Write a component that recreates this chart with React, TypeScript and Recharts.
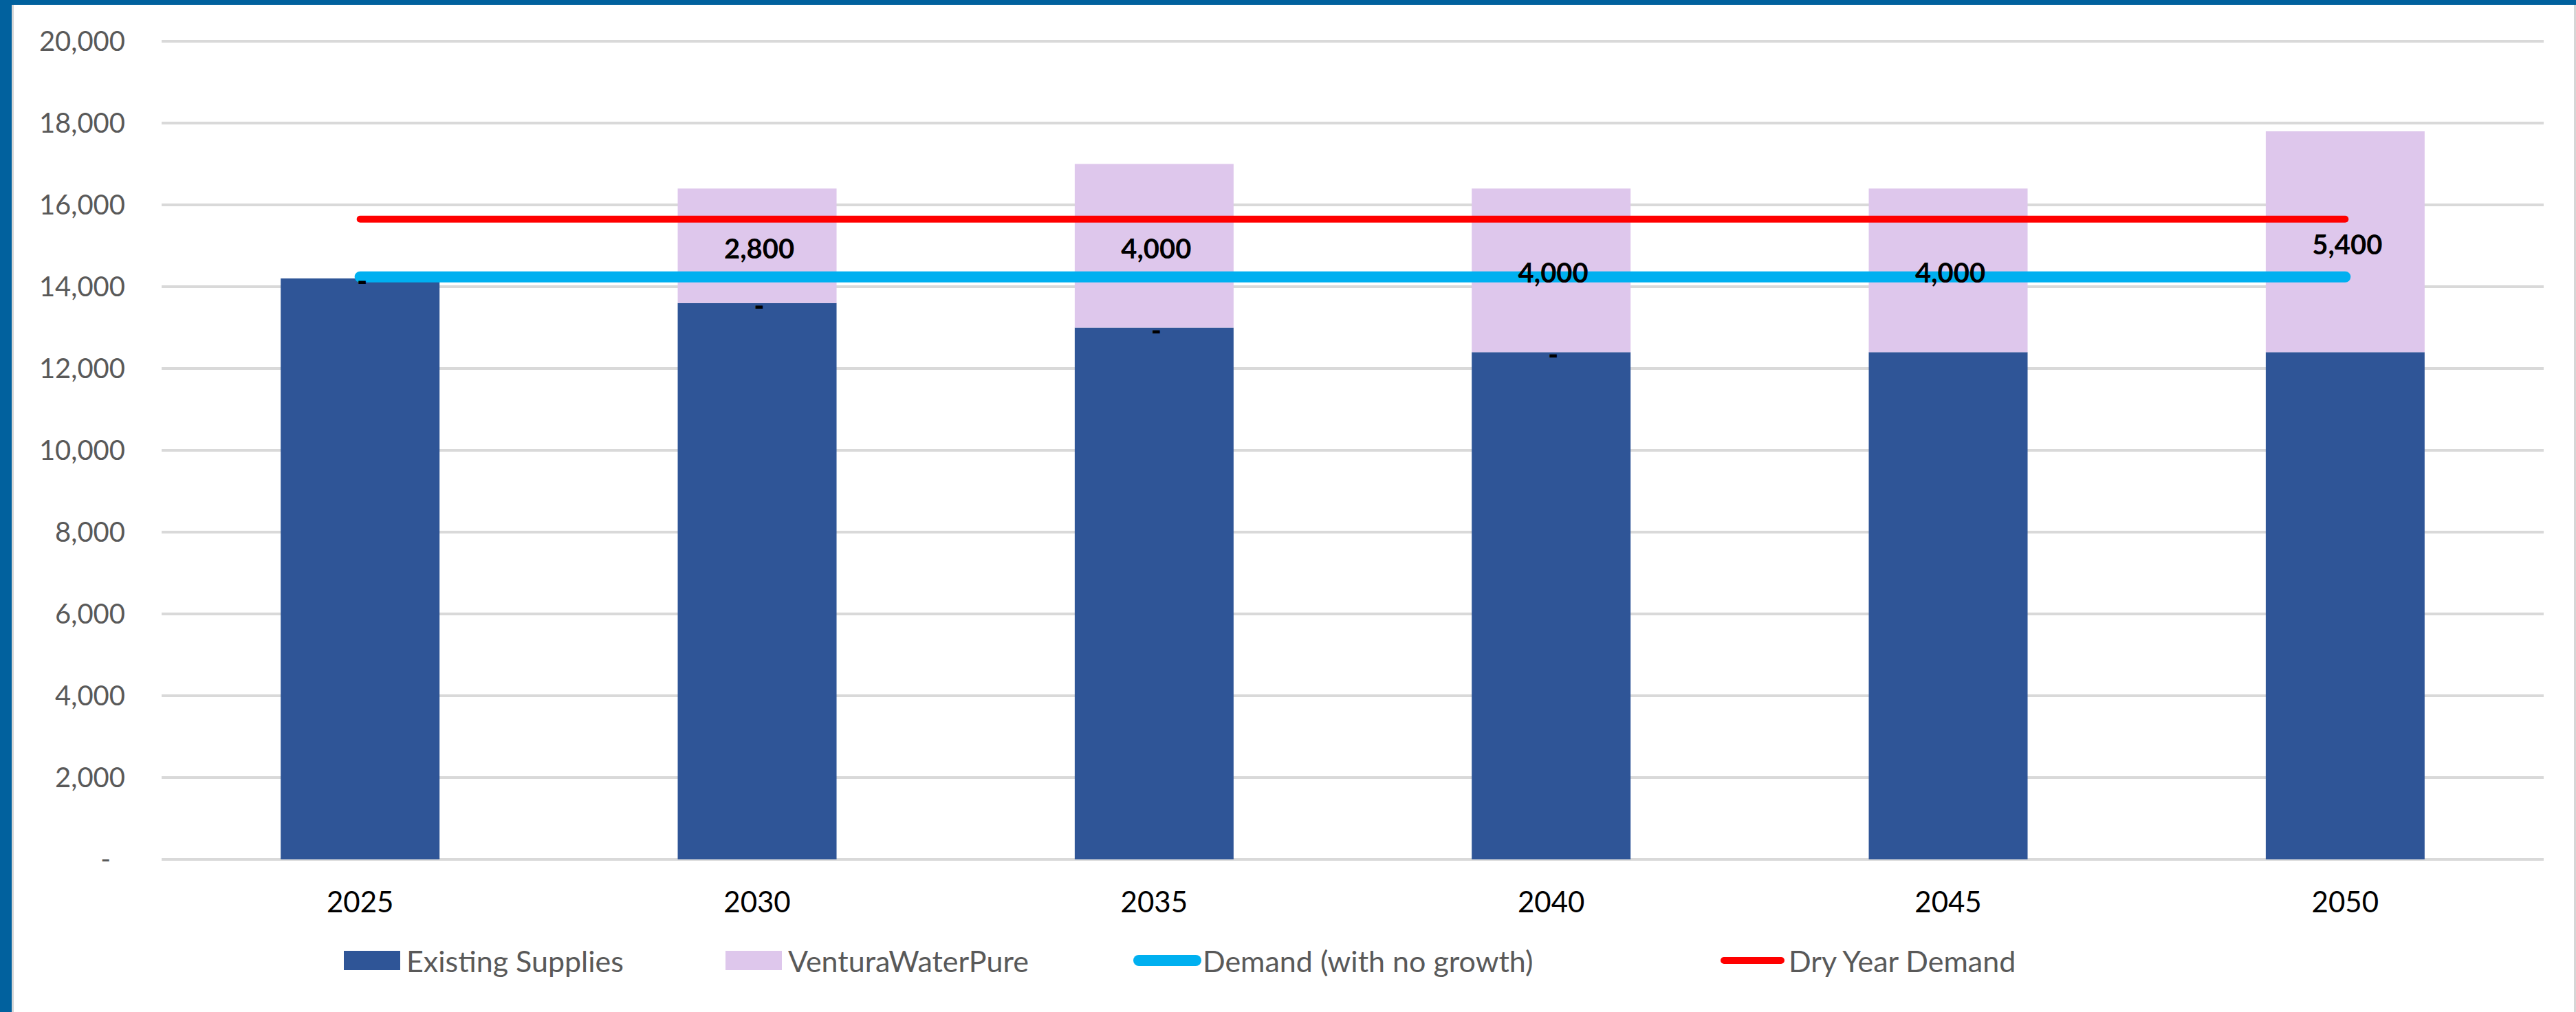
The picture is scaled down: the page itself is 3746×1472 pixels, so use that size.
import {
  ComposedChart,
  Bar,
  Line,
  XAxis,
  YAxis,
  CartesianGrid,
  Legend,
  LabelList,
} from "recharts";

// values
const years = ["2025", "2030", "2035", "2040", "2045", "2050"];
const existingSupplies = [14200, 13600, 13000, 12400, 12400, 12400];
// zero-valued series, only visible as "-" data labels
const otherSupplies = [null, 0, 0, 0, null, null];
const venturaWaterPure = [0, 2800, 4000, 4000, 4000, 5400];
const demandNoGrowth = [14240, 14240, 14240, 14240, 14240, 14240];
const dryYearDemand = [15650, 15650, 15650, 15650, 15650, 15650];
const yTicks = [0, 2000, 4000, 6000, 8000, 10000, 12000, 14000, 16000, 18000, 20000];

const data = years.map((year, i) => ({
  year,
  existing: existingSupplies[i],
  other: otherSupplies[i],
  pure: venturaWaterPure[i],
  demand: demandNoGrowth[i],
  dry: dryYearDemand[i],
}));

const FONT = "Lato, 'Open Sans', sans-serif";
const DARK_BLUE = "#2F5597";
const LAVENDER = "#DEC7EC";
const CYAN = "#00B0F0";
const RED = "#FF0000";
const FRAME = "#01619E";

const fmt = (v: number) => (v === 0 ? "-" : v.toLocaleString("en-US"));

const YTick = (props: any) => {
  const { x, y, payload } = props;
  const v = Number(payload.value);
  return (
    <text
      x={v === 0 ? x - 21 : x}
      y={y}
      dy="0.355em"
      textAnchor="end"
      fontFamily={FONT}
      fontSize={40}
      fill="#595959"
    >
      {fmt(v)}
    </text>
  );
};

const renderBarLabel = (props: any) => {
  const { x, y, width, height, value } = props;
  if (value === null || value === undefined) return null;
  const v = Number(value);
  return (
    <text
      x={Number(x) + Number(width) / 2 + 3}
      y={v === 0 ? Number(y) + Number(height) : Number(y) + Number(height) / 2}
      dy={v === 0 ? "0.45em" : "0.45em"}
      textAnchor="middle"
      fontFamily={FONT}
      fontSize={40}
      fontWeight={v === 0 ? 900 : 700}
      fill="#000"
    >
      {fmt(v)}
    </text>
  );
};

const legendItems = [
  { name: "Existing Supplies", color: DARK_BLUE, kind: "rect" },
  { name: "VenturaWaterPure", color: LAVENDER, kind: "rect" },
  { name: "Demand (with no growth)", color: CYAN, kind: "thick" },
  { name: "Dry Year Demand", color: RED, kind: "thin" },
];
const legendLefts = [500, 1055, 1648, 2502];

const renderLegend = () => (
  <div style={{ position: "relative", width: 3746, height: 54 }}>
    {legendItems.map((item, i) => (
      <div
        key={item.name}
        style={{
          position: "absolute",
          left: legendLefts[i],
          top: 0,
          height: 54,
          display: "flex",
          alignItems: "center",
          fontFamily: FONT,
          fontSize: 43,
          color: "#595959",
          whiteSpace: "nowrap",
        }}
      >
        {item.kind === "rect" ? (
          <span style={{ display: "inline-block", width: 82, height: 28, background: item.color, marginRight: 9 }} />
        ) : (
          <span
            style={{
              display: "inline-block",
              width: item.kind === "thick" ? 99 : 93,
              height: item.kind === "thick" ? 16 : 10,
              borderRadius: 8,
              background: item.color,
              marginRight: item.kind === "thick" ? 2 : 6,
            }}
          />
        )}
        <span>{item.name}</span>
      </div>
    ))}
  </div>
);

export default function App() {
  return (
    <div style={{ position: "absolute", left: 0, top: 0, width: 3746, height: 1472, background: "#fff" }}>
      <ComposedChart
        width={3746}
        height={1472}
        data={data}
        margin={{ top: 60, right: 47, bottom: 162, left: 0 }}
        barCategoryGap="30%"
      >
        <CartesianGrid vertical={false} stroke="#d9d9d9" strokeWidth={4} />
        <XAxis
          dataKey="year"
          height={60}
          axisLine={false}
          tickLine={false}
          tickSize={0}
          tickMargin={47}
          tick={{ fill: "#000", fontSize: 42, fontFamily: FONT }}
        />
        <XAxis xAxisId="lbl" dataKey="year" hide />
        <YAxis
          width={235}
          domain={[0, 20000]}
          ticks={yTicks}
          interval={0}
          axisLine={false}
          tickLine={false}
          tickSize={0}
          tickMargin={53}
          tick={<YTick />}
        />
        <Bar dataKey="existing" stackId="s" fill={DARK_BLUE} isAnimationActive={false} />
        <Bar dataKey="other" stackId="s" fill={DARK_BLUE} isAnimationActive={false} />
        <Bar dataKey="pure" stackId="s" fill={LAVENDER} isAnimationActive={false} />
        <Line
          dataKey="demand"
          type="linear"
          stroke={CYAN}
          strokeWidth={16}
          strokeLinecap="round"
          dot={false}
          activeDot={false}
          isAnimationActive={false}
        />
        <Line
          dataKey="dry"
          type="linear"
          stroke={RED}
          strokeWidth={10}
          strokeLinecap="round"
          dot={false}
          activeDot={false}
          isAnimationActive={false}
        />
        {/* transparent copy of the stack so the data labels sit above the lines */}
        <Bar xAxisId="lbl" dataKey="existing" stackId="lbl" fill="transparent" isAnimationActive={false} />
        <Bar
          xAxisId="lbl"
          dataKey="other"
          stackId="lbl"
          fill="transparent"
          minPointSize={1}
          isAnimationActive={false}
        >
          <LabelList dataKey="other" content={renderBarLabel} />
        </Bar>
        <Bar
          xAxisId="lbl"
          dataKey="pure"
          stackId="lbl"
          fill="transparent"
          minPointSize={1}
          isAnimationActive={false}
        >
          <LabelList dataKey="pure" content={renderBarLabel} />
        </Bar>
        <Legend
          content={renderLegend}
          layout="horizontal"
          verticalAlign="middle"
          align="center"
          wrapperStyle={{ top: 1370, left: 0, width: 3746, height: 54 }}
        />
      </ComposedChart>
      <div style={{ position: "absolute", left: 0, top: 0, width: 3746, height: 7, background: FRAME }} />
      <div style={{ position: "absolute", left: 0, top: 0, width: 17, height: 1472, background: FRAME }} />
      <div style={{ position: "absolute", left: 17, top: 7, width: 3, height: 1465, background: "#d6d6d6" }} />
      <div style={{ position: "absolute", left: 3743, top: 7, width: 3, height: 1465, background: "#d6d6d6" }} />
    </div>
  );
}
